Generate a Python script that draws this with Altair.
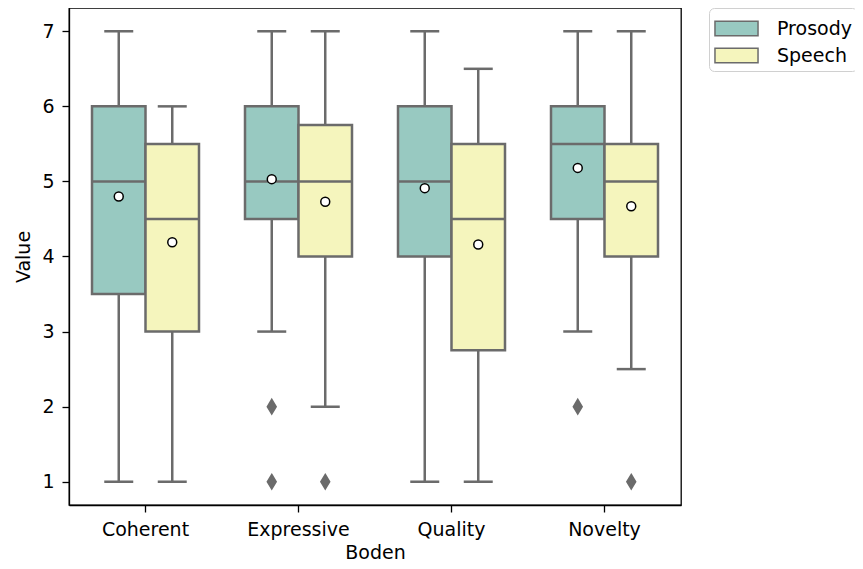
import altair as alt
import pandas as pd

categories = ["Coherent", "Expressive", "Quality", "Novelty"]
groups = ["Prosody", "Speech"]

# per (category, group) box statistics
box_cat = ["Coherent", "Coherent", "Expressive", "Expressive", "Quality", "Quality", "Novelty", "Novelty"]
box_grp = ["Prosody", "Speech"] * 4
whisk_lo = [1, 1, 3, 2, 1, 1, 3, 2.5]
q1 = [3.5, 3, 4.5, 4, 4, 2.75, 4.5, 4]
median = [5, 4.5, 5, 5, 5, 4.5, 5.5, 5]
q3 = [6, 5.5, 6, 5.75, 6, 5.5, 6, 5.5]
whisk_hi = [7, 6, 7, 7, 7, 6.5, 7, 7]
means = [4.80, 4.19, 5.03, 4.73, 4.91, 4.16, 5.18, 4.67]

out_cat = ["Expressive", "Expressive", "Expressive", "Novelty", "Novelty"]
out_grp = ["Prosody", "Prosody", "Speech", "Prosody", "Speech"]
out_val = [2, 1, 1, 2, 1]

df = pd.DataFrame({"cat": box_cat, "grp": box_grp, "lo": whisk_lo, "q1": q1,
                   "med": median, "q3": q3, "hi": whisk_hi, "mean": means})
dfo = pd.DataFrame({"cat": out_cat, "grp": out_grp, "val": out_val})

EDGE = "#6b6b6b"
colors = ["#98c9c1", "#f5f5bd"]
LW = 2.5

xenc = alt.X("cat:N", sort=categories, title="Boden",
             scale=alt.Scale(paddingInner=0, paddingOuter=0),
             axis=alt.Axis(labelAngle=0))
xoff = alt.XOffset("grp:N", sort=groups,
                   scale=alt.Scale(paddingInner=0, paddingOuter=0.43))
yscale = alt.Scale(domain=[0.69, 7.31], nice=False, zero=False)

base = alt.Chart(df).encode(x=xenc, xOffset=xoff)

whisk = base.mark_rule(color=EDGE, strokeWidth=LW).encode(
    y=alt.Y("lo:Q", scale=yscale, title="Value",
            axis=alt.Axis(values=[1, 2, 3, 4, 5, 6, 7], format="d", titlePadding=8)),
    y2="hi:Q")
box = base.mark_bar(stroke=EDGE, strokeWidth=LW, opacity=1).encode(
    y=alt.Y("q1:Q", scale=yscale), y2="q3:Q",
    color=alt.Color("grp:N", sort=groups,
                    scale=alt.Scale(domain=groups, range=colors),
                    legend=alt.Legend(title=None, orient="none", legendX=640, legendY=0)))
med = base.mark_tick(color=EDGE, thickness=LW, size=53, opacity=1).encode(
    y=alt.Y("med:Q", scale=yscale))
cap_lo = base.mark_tick(color=EDGE, thickness=LW, size=29, opacity=1).encode(
    y=alt.Y("lo:Q", scale=yscale))
cap_hi = base.mark_tick(color=EDGE, thickness=LW, size=29, opacity=1).encode(
    y=alt.Y("hi:Q", scale=yscale))
mean_pt = base.mark_point(shape="circle", filled=True, fill="white", stroke="black",
                          strokeWidth=1.5, size=80, opacity=1).encode(
    y=alt.Y("mean:Q", scale=yscale))
outl = alt.Chart(dfo).mark_point(shape="M0,-1L0.6,0L0,1L-0.6,0Z", filled=True,
                                 fill=EDGE, stroke=EDGE, size=190, opacity=1).encode(
    x=xenc, xOffset=xoff, y=alt.Y("val:Q", scale=yscale))

chart = alt.layer(whisk, box, med, cap_lo, cap_hi, mean_pt, outl).properties(
    width=612, height=497,
    autosize=alt.AutoSizeParams(type="none"),
    padding={"left": 61, "top": 0, "right": 174, "bottom": 56}
).configure_view(stroke="black", strokeWidth=1.3).configure_axis(
    labelFont="DejaVu Sans", titleFont="DejaVu Sans", labelFontSize=19, titleFontSize=19,
    labelColor="black", titleColor="black", titleFontWeight="normal",
    domainColor="black", domainWidth=1.3, tickColor="black", tickWidth=1.3, tickSize=7,
    grid=False, labelPadding=8, titlePadding=4
).configure_legend(
    labelFont="DejaVu Sans", labelFontSize=19, labelColor="black",
    symbolType="M-1.5,-0.5L1.5,-0.5L1.5,0.5L-1.5,0.5Z", symbolSize=824,
    symbolStrokeColor=EDGE, symbolStrokeWidth=1.5, symbolOpacity=1,
    strokeColor="#d0d0d0", cornerRadius=5, padding=5, rowPadding=1,
    labelOffset=25, symbolOffset=7
)

chart.save("out.html", embed_options={"renderer": "svg", "actions": False})
